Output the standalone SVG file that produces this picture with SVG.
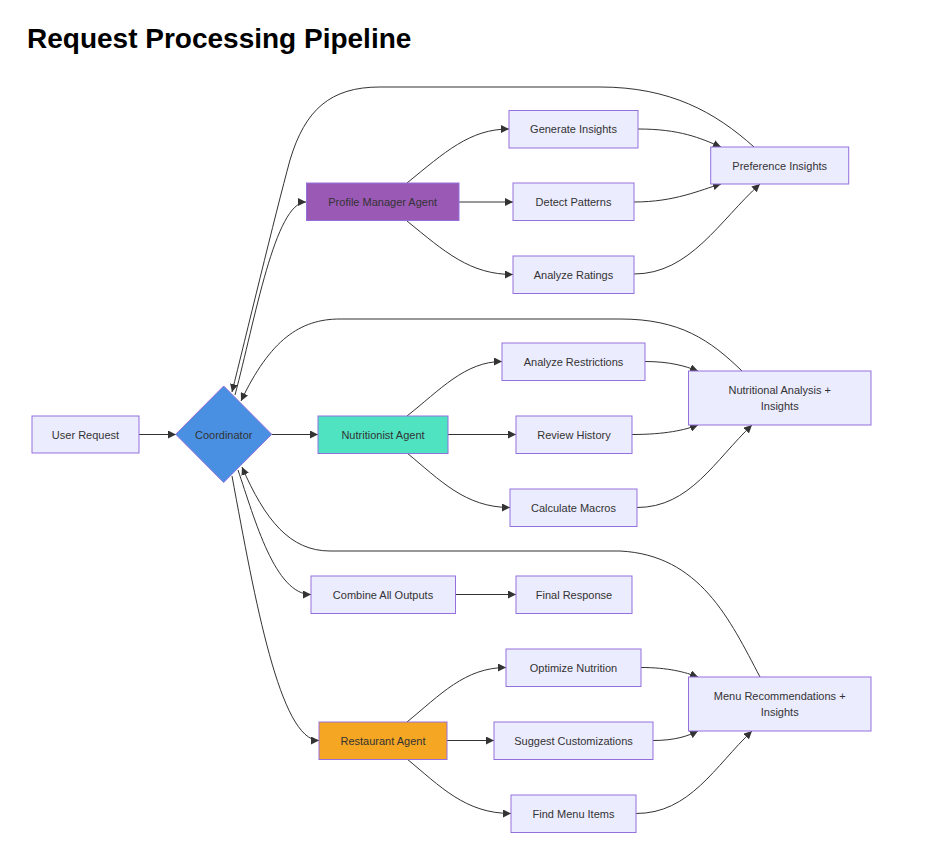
<svg xmlns="http://www.w3.org/2000/svg" width="928" height="848" viewBox="0 0 928 848">
<style>
.t{font-family:"Liberation Sans",Arial,sans-serif;font-size:11px;fill:#333;text-anchor:middle;dominant-baseline:central}
.n{fill:#ECECFF;stroke:#9370DB;stroke-width:1}
.e{fill:none;stroke:#333;stroke-width:1;marker-end:url(#arr)}
.title{font-family:"Liberation Sans",Arial,sans-serif;font-size:28px;font-weight:bold;fill:#000}
</style>
<defs>
<marker id="arr" viewBox="0 0 10 10" refX="10" refY="5" markerWidth="8" markerHeight="8" markerUnits="userSpaceOnUse" orient="auto">
<path d="M0,0 L10,5 L0,10 z" fill="#333"/>
</marker>
</defs>
<rect width="928" height="848" fill="#fff"/>
<text class="title" x="27" y="48">Request Processing Pipeline</text>

<g id="connectors">
<path class="e" d="M139,434.5 L176,434.5"/>
<path class="e" d="M235,395 C255,320 275,202 306,202"/>
<path class="e" d="M754,147 C715,112 670,87 600,87 L380,87 C330,87 305,110 290,160 C275,215 245,340 232,392"/>
<path class="e" d="M271.5,434.5 L318,434.5"/>
<path class="e" d="M742,371 C710,340 680,319 620,319 L340,319 C300,319 270,340 241,401"/>
<path class="e" d="M238,470 C255,520 275,594.5 311,594.5"/>
<path class="e" d="M760,677 C730,620 700,555 620,551 L330,551 C290,551 265,520 242,467"/>
<path class="e" d="M232,476 C255,600 280,740.5 319,740.5"/>
<path class="e" d="M407,183 C445,152 470,129 509,129"/>
<path class="e" d="M459,202 L513,202"/>
<path class="e" d="M407,221 C445,252 470,274.5 513,274.5"/>
<path class="e" d="M638,129 C680,129 700,138 721,147"/>
<path class="e" d="M634,202 C675,202 700,190 721,184"/>
<path class="e" d="M634,274 C690,274 720,220 760,184"/>
<path class="e" d="M407,416 C440,390 465,361.5 502,361.5"/>
<path class="e" d="M448,434.5 L516,434.5"/>
<path class="e" d="M407,453 C440,480 465,507.5 510,507.5"/>
<path class="e" d="M645,361.5 C670,361.5 685,366 698,371"/>
<path class="e" d="M632,434.5 C665,434.5 685,430 698,425"/>
<path class="e" d="M637,507.5 C690,507.5 715,460 752,425"/>
<path class="e" d="M455,594.5 L516,594.5"/>
<path class="e" d="M407,722 C440,695 465,667.5 506,667.5"/>
<path class="e" d="M447,740.5 L494,740.5"/>
<path class="e" d="M407,759 C440,786 465,813.5 511,813.5"/>
<path class="e" d="M641,667.5 C668,667.5 685,672 698,677"/>
<path class="e" d="M653,740.5 C675,740.5 688,736 698,731"/>
<path class="e" d="M636,813.5 C690,813.5 715,766 752,731"/>
</g>

<g id="user-request"><rect class="n" x="32" y="416" width="107" height="37"/><text class="t" x="85.5" y="434.5">User Request</text></g>
<g id="coordinator"><polygon points="223.7,386 271.7,434.3 223.7,482.5 175.7,434.3" fill="#4A90E2" stroke="#9370DB" stroke-width="1"/><text class="t" x="223.7" y="434.5">Coordinator</text></g>
<g id="profile-manager"><rect x="306.5" y="183" width="152.5" height="37.5" fill="#9B59B6" stroke="#9370DB" stroke-width="1"/><text class="t" x="382.7" y="202">Profile Manager Agent</text></g>
<g id="generate-insights"><rect class="n" x="509" y="110.5" width="129" height="37.5"/><text class="t" x="573.5" y="129">Generate Insights</text></g>
<g id="detect-patterns"><rect class="n" x="513" y="183" width="121" height="37.5"/><text class="t" x="573.5" y="202">Detect Patterns</text></g>
<g id="analyze-ratings"><rect class="n" x="513" y="256" width="121" height="37.5"/><text class="t" x="573.5" y="274.5">Analyze Ratings</text></g>
<g id="preference-insights"><rect class="n" x="710.7" y="147" width="138" height="37"/><text class="t" x="779.7" y="165.5">Preference Insights</text></g>
<g id="nutritionist"><rect x="318" y="416" width="130" height="37.5" fill="#50E3C2" stroke="#9370DB" stroke-width="1"/><text class="t" x="383" y="434.5">Nutritionist Agent</text></g>
<g id="analyze-restrictions"><rect class="n" x="502" y="343" width="143" height="37.5"/><text class="t" x="573.5" y="361.5">Analyze Restrictions</text></g>
<g id="review-history"><rect class="n" x="516" y="416" width="116" height="37.5"/><text class="t" x="574" y="434.5">Review History</text></g>
<g id="calculate-macros"><rect class="n" x="510" y="489" width="127" height="37.5"/><text class="t" x="573.5" y="507.5">Calculate Macros</text></g>
<g id="nutritional-analysis"><rect class="n" x="688.5" y="371" width="182.5" height="54"/><text class="t" x="779.7" y="390">Nutritional Analysis +</text><text class="t" x="779.7" y="406">Insights</text></g>
<g id="combine"><rect class="n" x="311" y="576" width="144.5" height="37.5"/><text class="t" x="383" y="594.5">Combine All Outputs</text></g>
<g id="final-response"><rect class="n" x="516" y="576" width="116" height="37.5"/><text class="t" x="574" y="594.5">Final Response</text></g>
<g id="restaurant"><rect x="319" y="722" width="128" height="37.5" fill="#F5A623" stroke="#9370DB" stroke-width="1"/><text class="t" x="383" y="740.5">Restaurant Agent</text></g>
<g id="optimize-nutrition"><rect class="n" x="506" y="649" width="135" height="37.5"/><text class="t" x="573.5" y="667.5">Optimize Nutrition</text></g>
<g id="suggest-customizations"><rect class="n" x="494" y="722" width="159" height="37.5"/><text class="t" x="573.5" y="740.5">Suggest Customizations</text></g>
<g id="find-menu-items"><rect class="n" x="511" y="795" width="125" height="37.5"/><text class="t" x="573.5" y="813.5">Find Menu Items</text></g>
<g id="menu-recommendations"><rect class="n" x="688.5" y="677" width="182.5" height="54"/><text class="t" x="779.7" y="696">Menu Recommendations +</text><text class="t" x="779.7" y="712">Insights</text></g>
</svg>
